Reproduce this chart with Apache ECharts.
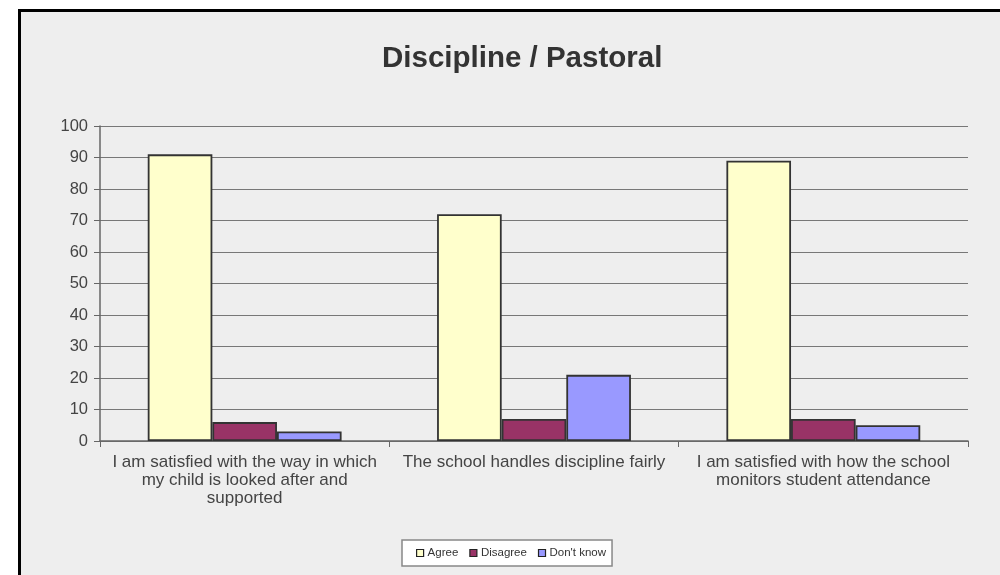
<!DOCTYPE html>
<html>
<head>
<meta charset="utf-8">
<script src="https://cdn.jsdelivr.net/npm/echarts@6/dist/echarts.min.js"></script>
<style>
  html, body { margin: 0; padding: 0; background: #fff; overflow: hidden; }
  #frame { position: absolute; left: 18px; top: 9px; width: 979px; height: 563px;
           border-left: 3px solid #000; border-top: 3px solid #000; background: #eeeeee; }
  #chart { position: absolute; left: 0; top: 0; width: 979px; height: 563px; }
</style>
</head>
<body>
<div id="frame"><div id="chart"></div></div>
<script>
// chart data
const categories = [
  'I am satisfied with the way in which\nmy child is looked after and\nsupported',
  'The school handles discipline fairly',
  'I am satisfied with how the school\nmonitors student attendance'
];
const seriesNames = ['Agree', 'Disagree', "Don't know"];
const agree = [91, 72, 89];
const disagree = [6, 7, 7];
const dontKnow = [3, 21, 5];
const colors = ['#ffffcc', '#993366', '#9999ff'];

const chartEl = document.getElementById('chart');
const myChart = echarts.init(chartEl);

const bar = (name, data, color) => ({
  name,
  type: 'bar',
  data,
  barGap: '0%',
  barCategoryGap: '33%',
  itemStyle: { color, borderColor: '#333', borderWidth: 1.8 }
});

myChart.setOption({
  animation: false,
  textStyle: { fontFamily: 'Liberation Sans, Arial, sans-serif' },
  title: {
    text: 'Discipline / Pastoral',
    left: 356,
    top: 27,
    textStyle: { fontSize: 29.5, fontWeight: 'bold', color: '#333' }
  },
  grid: { left: 79, right: 32, top: 114, bottom: 134 },
  legend: {
    bottom: 9,
    left: 381,
    icon: 'rect',
    itemWidth: 7,
    itemHeight: 7,
    itemGap: 11,
    backgroundColor: '#fff',
    borderColor: '#888',
    borderWidth: 1.5,
    padding: [7, 6, 7, 14],
    textStyle: { fontSize: 11.5, color: '#333', padding: [0, 0, 0, -1] },
    itemStyle: { borderColor: '#222', borderWidth: 1.2 },
    data: seriesNames
  },
  xAxis: {
    type: 'category',
    data: categories,
    axisLine: { lineStyle: { color: '#666', width: 1.5 } },
    axisTick: { show: true, length: 6, lineStyle: { color: '#666' } },
    axisLabel: { fontSize: 17, color: '#444', lineHeight: 18, margin: 12, interval: 0 }
  },
  yAxis: {
    type: 'value',
    min: 0,
    max: 100,
    interval: 10,
    axisLine: { show: true, lineStyle: { color: '#666', width: 1.5 } },
    axisTick: { show: true, length: 6, lineStyle: { color: '#666' } },
    axisLabel: { fontSize: 16.5, color: '#444', margin: 12 },
    splitLine: { lineStyle: { color: '#777', width: 1.2 } }
  },
  series: [
    bar(seriesNames[0], agree, colors[0]),
    bar(seriesNames[1], disagree, colors[1]),
    bar(seriesNames[2], dontKnow, colors[2])
  ]
});
</script>
</body>
</html>
